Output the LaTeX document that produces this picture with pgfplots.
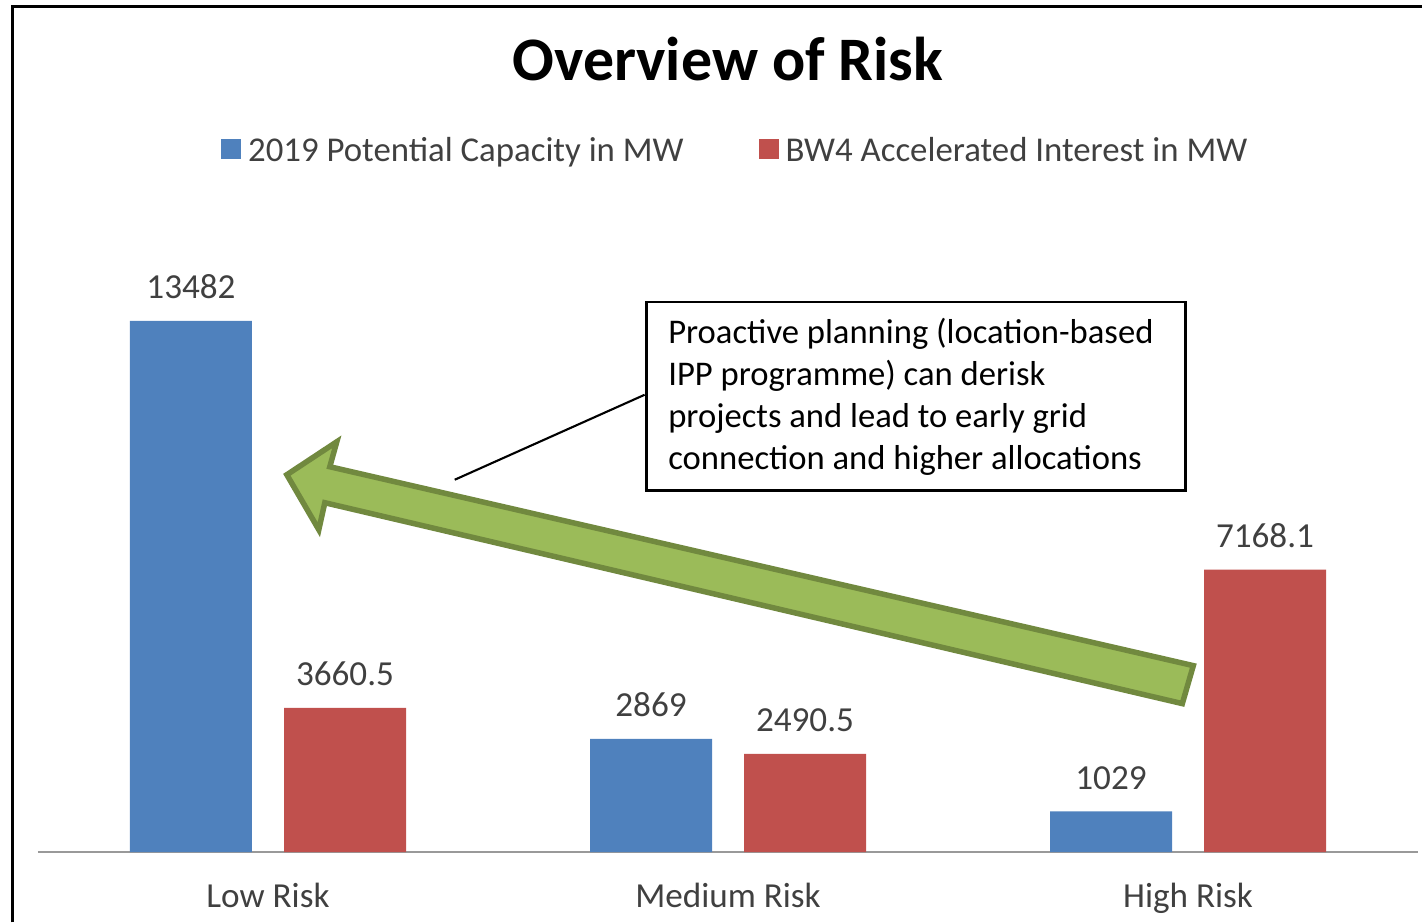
\documentclass[border=0pt]{standalone}
\usepackage{pgfplots}
\pgfplotsset{compat=1.18}
\usepackage{fontspec}
\setmainfont{Carlito}
\definecolor{barblue}{HTML}{4F81BD}
\definecolor{barred}{HTML}{C0504D}
\definecolor{arrowfill}{HTML}{9BBB59}
\definecolor{arrowline}{HTML}{71893F}
\definecolor{labelgray}{HTML}{404040}

\begin{document}
\begin{tikzpicture}
\useasboundingbox (0,0) rectangle (14.23cm,-9.23cm);
\begin{axis}[
    at={(0.38cm,-8.52cm)}, anchor=south west,
    width=13.8cm, height=5.91cm, scale only axis,
    ymin=0, ymax=15000, xmin=-0.5, xmax=2.5,
    ybar=0.32cm, bar width=1.22cm,
    xtick={0,1,2},
    xticklabels={Low Risk, Medium Risk, High Risk},
    xticklabel style={anchor=base, yshift=-0.55cm, font=\fontsize{10}{12}\selectfont, text=labelgray},
    axis x line=bottom, axis line style={-, draw=gray!80, line width=0.8pt},
    hide y axis, major tick length=0pt,
    nodes near coords,
    every node near coord/.append style={anchor=base, yshift=0.22cm,
        font=\fontsize{10}{12}\selectfont, text=labelgray},
    /pgf/number format/.cd, fixed, precision=1, 1000 sep={}, assume math mode=true,
    /pgfplots/.cd,
    title={\textbf{Overview of Risk}},
    title style={at={(0.5,1.306)}, anchor=center, yshift=0pt, font=\fontsize{17.6}{21}\selectfont},
    legend image code/.code={\fill[#1] (0cm,-0.07cm) rectangle (0.2cm,0.13cm);},
    legend style={draw=none, fill=none, legend columns=2, at={(0.507,1.184)}, anchor=center,
        font=\fontsize{9.9}{12}\selectfont, text=labelgray,
        /tikz/every even column/.append style={column sep=0.68cm}},
  ]
\addplot[fill=barblue, draw=none] coordinates {(0,13482) (1,2869) (2,1029)};
\addplot[fill=barred, draw=none] coordinates {(0,3660.5) (1,2490.5) (2,7168.1)};
\legend{2019 Potential Capacity in MW, BW4 Accelerated Interest in MW}
\end{axis}
\begin{scope}[x=0.01cm, y=-0.01cm]
  % frame
  \draw[line width=0.03cm] (13,923) -- (13,6) -- (1423,6);
  % green arrow
  \draw[arrowline, fill=arrowfill, line width=0.055cm, line join=miter]
    (1194,666) -- (330,467) -- (337,442) -- (287,475) -- (319,530) -- (325,503) -- (1183,704) -- cycle;
  % callout
  \draw[line width=0.6pt] (645,395) -- (455,480);
  \draw[line width=0.7pt, fill=white] (647,302) rectangle (1186,491);
  \begin{scope}[every node/.style={anchor=base west, inner sep=0pt, font=\fontsize{9.85}{12}\selectfont}]
    \node at (668,344) {Proactive planning (location-based};
    \node at (668,386) {IPP programme) can derisk};
    \node at (668,428) {projects and lead to early grid};
    \node at (668,470) {connection and higher allocations};
  \end{scope}
\end{scope}
\end{tikzpicture}
\end{document}
